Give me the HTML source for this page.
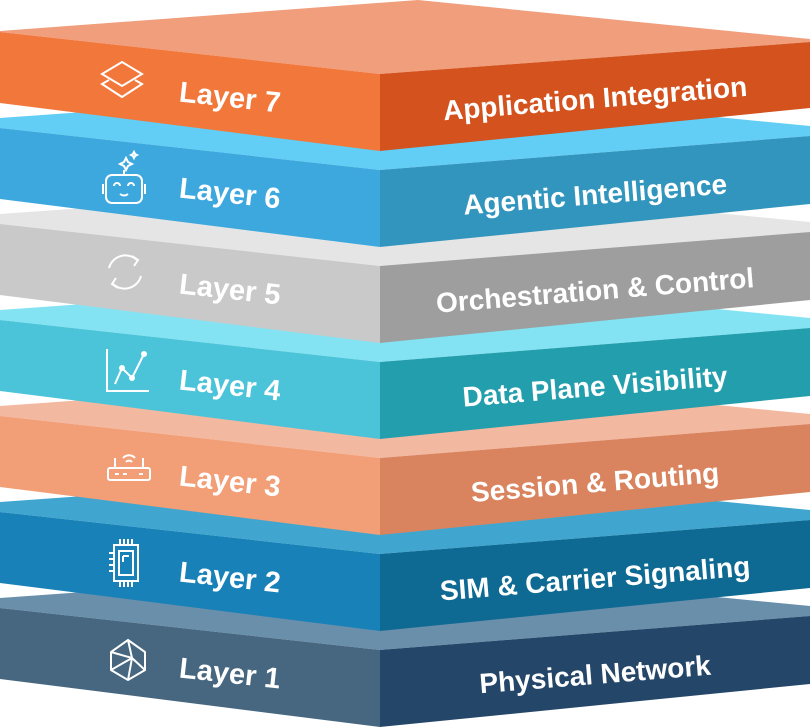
<!DOCTYPE html>
<html><head><meta charset="utf-8"><style>
html,body{margin:0;padding:0;background:#fff;width:810px;height:728px;overflow:hidden}
svg{display:block}
text{font-family:"Liberation Sans",sans-serif;font-weight:bold;fill:#fff}
</style></head><body>
<svg width="810" height="728" viewBox="0 0 810 728" xmlns="http://www.w3.org/2000/svg">
<defs>
<g id="slab">
</g>
</defs>
<!-- Layer 1 (o=576) -->
<g transform="translate(0,576)">
<polygon points="0,22 418,-8 810,30 810,40 380,74 0,32" fill="#6A8FAB"/>
<polygon points="0,32 380,74 380,151 0,103" fill="#46677F"/>
<polygon points="380,74 810,40 810,108 380,151" fill="#244669"/>
<text x="230" y="107" font-size="29" text-anchor="middle" transform="rotate(6.3 230 97)">Layer 1</text>
<text x="595" y="108" font-size="28" text-anchor="middle" transform="rotate(-4.6 595 98)">Physical Network</text>
<g stroke="#fff" stroke-width="2" fill="none" transform="translate(128,84)">
<polygon points="0,-20 17,-8 17,10 0,20 -17,10 -17,-8"/><line x1="-17" y1="-8" x2="4" y2="-2"/><line x1="4" y1="-2" x2="17" y2="10"/><line x1="4" y1="-2" x2="-17" y2="10"/><line x1="4" y1="-2" x2="0" y2="20"/><line x1="0" y1="-20" x2="4" y2="-2"/>
</g>
</g>
<!-- Layer 2 -->
<g transform="translate(0,480)">
<polygon points="0,22 418,-8 810,30 810,40 380,74 0,32" fill="#40A6D0"/>
<polygon points="0,32 380,74 380,151 0,103" fill="#1882B8"/>
<polygon points="380,74 810,40 810,108 380,151" fill="#0E6A92"/>
<text x="230" y="107" font-size="29" text-anchor="middle" transform="rotate(6.3 230 97)">Layer 2</text>
<text x="595" y="108" font-size="28" text-anchor="middle" transform="rotate(-4.6 595 98)">SIM &amp; Carrier Signaling</text>
<g stroke="#fff" stroke-width="2" fill="none" transform="translate(126,83)">
<rect x="-12" y="-18" width="24" height="36"/><rect x="-7" y="-12" width="14" height="24"/><path d="M-3,-7 h6 M-3,-7 v6"/><path d="M-6,-18 v-6 M-2,-18 v-6 M2,-18 v-6 M6,-18 v-6 M-6,18 v6 M-2,18 v6 M2,18 v6 M6,18 v6 M-12,-10 h-5 M-12,-4 h-5 M-12,2 h-5 M-12,8 h-5"/>
</g>
</g>
<!-- Layer 3 -->
<g transform="translate(0,384)">
<polygon points="0,22 418,-8 810,30 810,40 380,74 0,32" fill="#F2B8A0"/>
<polygon points="0,32 380,74 380,151 0,103" fill="#F29E76"/>
<polygon points="380,74 810,40 810,108 380,151" fill="#D9845E"/>
<text x="230" y="107" font-size="29" text-anchor="middle" transform="rotate(6.3 230 97)">Layer 3</text>
<text x="595" y="108" font-size="28" text-anchor="middle" transform="rotate(-4.6 595 98)">Session &amp; Routing</text>
<g stroke="#fff" stroke-width="2" fill="none" transform="translate(129,84)">
<rect x="-21" y="0" width="42" height="12" rx="2"/><line x1="-14" y1="0" x2="-14" y2="-10"/><line x1="14" y1="0" x2="14" y2="-10"/><path d="M-6,-10 a8,8 0 0 1 12,0 M-3,-6 a4,4 0 0 1 6,0"/><path d="M-14,6 h4 M-6,6 h4 M10,6 h4"/>
</g>
</g>
<!-- Layer 4 -->
<g transform="translate(0,288)">
<polygon points="0,22 418,-8 810,30 810,40 380,74 0,32" fill="#84E3F3"/>
<polygon points="0,32 380,74 380,151 0,103" fill="#4BC4D9"/>
<polygon points="380,74 810,40 810,108 380,151" fill="#239EAD"/>
<text x="230" y="107" font-size="29" text-anchor="middle" transform="rotate(6.3 230 97)">Layer 4</text>
<text x="595" y="108" font-size="28" text-anchor="middle" transform="rotate(-4.6 595 98)">Data Plane Visibility</text>
<g stroke="#fff" stroke-width="2" fill="none" transform="translate(128,82)">
<path d="M-21,-21 V21 H21"/><polyline points="-13,14 -6,-2 4,8 16,-16"/><circle cx="16" cy="-16" r="2" fill="#fff"/><circle cx="-6" cy="-2" r="2" fill="#fff"/><circle cx="4" cy="8" r="2" fill="#fff"/>
</g>
</g>
<!-- Layer 5 -->
<g transform="translate(0,192)">
<polygon points="0,22 418,-8 810,30 810,40 380,74 0,32" fill="#E5E5E5"/>
<polygon points="0,32 380,74 380,151 0,103" fill="#C9C9C9"/>
<polygon points="380,74 810,40 810,108 380,151" fill="#9E9E9E"/>
<text x="230" y="107" font-size="29" text-anchor="middle" transform="rotate(6.3 230 97)">Layer 5</text>
<text x="595" y="108" font-size="28" text-anchor="middle" transform="rotate(-4.6 595 98)">Orchestration &amp; Control</text>
<g stroke="#fff" stroke-width="2" fill="none" transform="translate(125,80)">
<path d="M-16,-4 A17,17 0 0 1 12,-12"/><path d="M16,4 A17,17 0 0 1 -12,12"/><path d="M7,-16 l6,4 -4,6"/><path d="M-7,16 l-6,-4 4,-6"/>
</g>
</g>
<!-- Layer 6 -->
<g transform="translate(0,96)">
<polygon points="0,22 418,-8 810,30 810,40 380,74 0,32" fill="#62CEF5"/>
<polygon points="0,32 380,74 380,151 0,103" fill="#3DA8DE"/>
<polygon points="380,74 810,40 810,108 380,151" fill="#3295BE"/>
<text x="230" y="107" font-size="29" text-anchor="middle" transform="rotate(6.3 230 97)">Layer 6</text>
<text x="595" y="108" font-size="28" text-anchor="middle" transform="rotate(-4.6 595 98)">Agentic Intelligence</text>
<g stroke="#fff" stroke-width="2" fill="none" transform="translate(124,88)">
<rect x="-18" y="-9" width="36" height="28" rx="6"/><path d="M-21,0 v10 M21,0 v10"/><path d="M-10,2 a3,3 0 0 1 6,0 M4,2 a3,3 0 0 1 6,0 M-4,10 q4,3 8,0"/><line x1="0" y1="-9" x2="0" y2="-14"/><path d="M2,-26 l2,4 4,2 -4,2 -2,4 -2,-4 -4,-2 4,-2z"/><path d="M10,-32 l1,2 2,1 -2,1 -1,2 -1,-2 -2,-1 2,-1z"/>
</g>
</g>
<!-- Layer 7 -->
<g>
<polygon points="0,31 418,0 810,39 810,42 380,74 0,32" fill="#F09E7C"/>
<polygon points="0,32 380,74 380,151 0,103" fill="#F2773B"/>
<polygon points="380,74 810,42 810,108 380,151" fill="#D3521D"/>
<text x="230" y="107" font-size="29" text-anchor="middle" transform="rotate(6.3 230 97)">Layer 7</text>
<text x="595" y="108" font-size="28" text-anchor="middle" transform="rotate(-4.6 595 98)">Application Integration</text>
<g stroke="#fff" stroke-width="2" fill="none" transform="translate(122,82)">
<polygon points="0,-20 20,-8 0,4 -20,-8"/><path d="M-13,-2 L-20,2 0,15 20,2 13,-2"/>
</g>
</g>
</svg>
</body></html>
